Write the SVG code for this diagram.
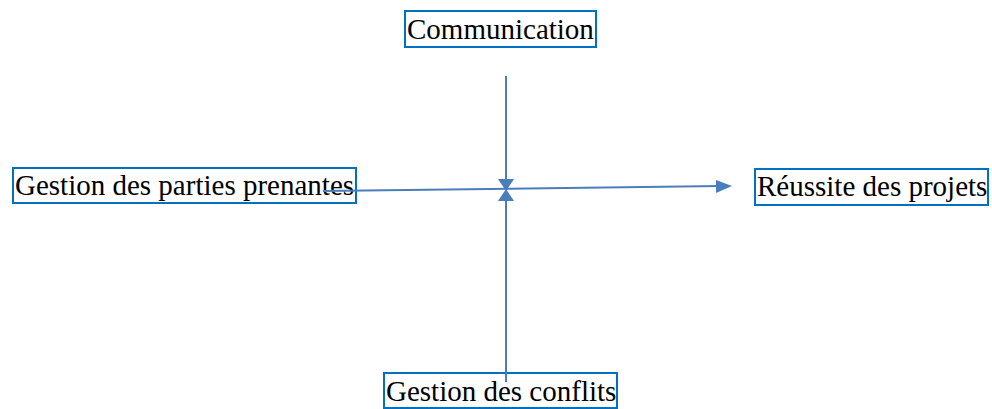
<svg xmlns="http://www.w3.org/2000/svg" width="992" height="409" viewBox="0 0 992 409">
  <style>
    .box { fill: none; stroke: #0070c0; stroke-width: 2; }
    .label { font-family: 'Liberation Serif', serif; font-size: 29px; fill: #000000; }
    .link { stroke: #4a7ebb; stroke-width: 2; fill: none; }
    .head { fill: #4a7ebb; }
  </style>

  <g id="communication">
    <rect class="box" x="405" y="11" width="191" height="36"/>
    <text class="label" x="407" y="39">Communication</text>
  </g>

  <g id="gestion-parties-prenantes">
    <rect class="box" x="13" y="168" width="343" height="35"/>
    <text class="label" x="15" y="195">Gestion des parties prenantes</text>
  </g>

  <g id="reussite-projets">
    <rect class="box" x="755" y="169" width="233" height="36"/>
    <text class="label" x="757" y="196">Réussite des projets</text>
  </g>

  <g id="gestion-conflits">
    <rect class="box" x="384" y="373" width="233" height="35"/>
    <text class="label" x="386" y="401">Gestion des conflits</text>
  </g>

  <!-- connectors, drawn over the boxes -->
  <g id="connectors">
    <!-- Communication down to the centre -->
    <line class="link" x1="506" y1="76" x2="506" y2="181"/>
    <polygon class="head" points="498,179 514,179 506,191"/>
    <!-- Gestion des conflits up to the centre -->
    <line class="link" x1="506" y1="382" x2="506" y2="199"/>
    <polygon class="head" points="498,201 514,201 506,189"/>
    <!-- Gestion des parties prenantes across to Réussite des projets -->
    <line class="link" x1="323" y1="191" x2="720" y2="186"/>
    <polygon class="head" points="716,180 732,186 716,193"/>
  </g>
</svg>
